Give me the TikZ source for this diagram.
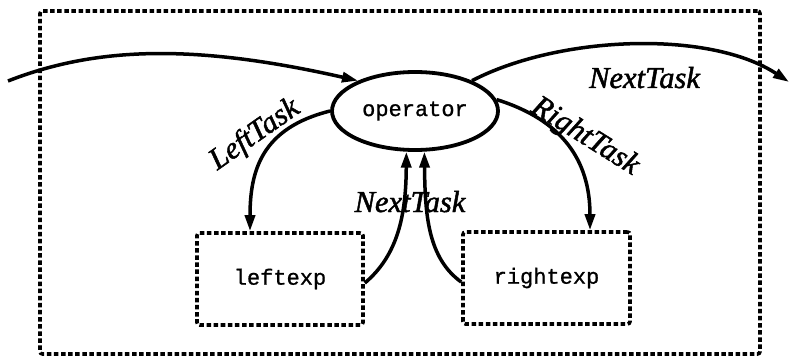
\documentclass[tikz,border=0pt]{standalone}
\usepackage{fontspec}
\setmainfont{Liberation Serif}
\setmonofont{Liberation Mono}[FakeBold=0.9]
\newfontfamily\labelfont{Liberation Serif Italic}[FakeBold=1.6]
\usetikzlibrary{shapes.geometric,arrows.meta}
\begin{document}
\begin{tikzpicture}[x=1pt,y=-1pt,
  dotbox/.style={draw,line width=3.6pt,dash pattern=on 4.5pt off 2.6pt,rounded corners=2.5pt,inner sep=0pt},
  flow/.style={line width=3.5pt,-{Triangle[length=16pt,width=10pt]}},
  lbl/.style={font=\labelfont\fontsize{30.5}{31}\selectfont,inner sep=0pt},
  code/.style={font=\ttfamily\fontsize{22}{22}\selectfont}]
  \useasboundingbox (0,0) rectangle (789,358);
  % enclosing region
  \node[dotbox,minimum width=720pt,minimum height=343pt] (outer) at (400,182.5) {};
  % operator and its two operand boxes
  \node[draw,ellipse,line width=3.8pt,minimum width=166pt,minimum height=78pt,inner sep=0pt,code] (op) at (415,111) {operator};
  \node[dotbox,minimum width=166pt,minimum height=92pt,code] (left) at (280,279) {leftexp};
  \node[dotbox,minimum width=167pt,minimum height=92pt,code] (right) at (546.5,278) {rightexp};
  % free ends of the through path
  \coordinate (in) at (8,81);
  \coordinate (out) at (789,82);
  % task flow
  \draw[flow] (in) .. controls (100,45) and (200,45) .. (op.152);
  \draw[flow] (op.28) .. controls (560,35) and (710,30) .. (out);
  \draw[flow] (op.180) .. controls (262,128) and (250,170) .. ([xshift=-30pt]left.north);
  \draw[flow] (op.8) .. controls (562,120) and (590,160) .. ([xshift=43.5pt]right.north);
  \draw[flow] ([yshift=-4pt]left.east) .. controls (398,255) and (406,215) .. (op.258);
  \draw[flow] ([yshift=-4pt]right.west) .. controls (428,258) and (425,215) .. (op.283);
  % labels
  \node[lbl,rotate=35] (lt) at (255,135) {LeftTask};
  \node[lbl,rotate=-32] (rt) at (585,137) {RightTask};
  \node[lbl,anchor=base] (nt1) at (644.5,88) {NextTask};
  \node[lbl,anchor=base] (nt2) at (410,212) {NextTask};
\end{tikzpicture}
\end{document}
